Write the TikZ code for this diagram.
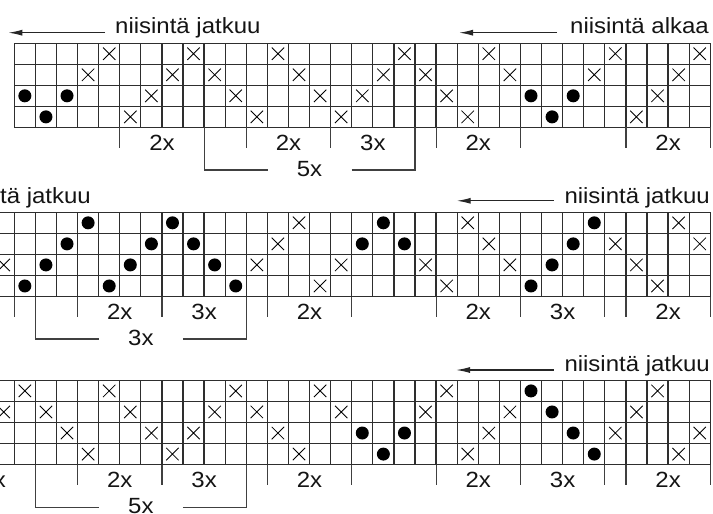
\documentclass[tikz,border=0pt]{standalone}
\usepackage{fontspec}
\setmainfont{Liberation Sans}[FakeStretch=1.09]
\usetikzlibrary{arrows.meta}
\def\cw{21.09}
\def\xo{14.3}
\def\rh{21.05}
\newcommand\wgrid[3]{%
  \pgfmathsetmacro\gl{\xo+(#2)*\cw}%
  \pgfmathsetmacro\gr{\xo+(#3+1)*\cw}%
  \pgfmathtruncatemacro\glast{#3+1}%
  \foreach \k in {0,...,4}{\draw[gridline] (\gl,{#1+\k*\rh}) -- (\gr,{#1+\k*\rh});}%
  \foreach \c in {#2,...,\glast}{\draw[gridline] ({\xo+\c*\cw},#1) -- ({\xo+\c*\cw},{#1+4*\rh});}%
}
\newcommand\xmarks[2]{%
  \foreach \c/\r in {#2}{%
    \pgfmathsetmacro\cx{\xo+(\c+0.5)*\cw}%
    \pgfmathsetmacro\cy{#1+(\r-0.5)*\rh}%
    \draw[xmark] ({\cx-6.2},{\cy-6.2}) -- ({\cx+6.2},{\cy+6.2}) ({\cx-6.2},{\cy+6.2}) -- ({\cx+6.2},{\cy-6.2});}}
\newcommand\dmarks[2]{%
  \foreach \c/\r in {#2}{%
    \pgfmathsetmacro\cx{\xo+(\c+0.5)*\cw}%
    \pgfmathsetmacro\cy{#1+(\r-0.5)*\rh}%
    \fill[dotmark] (\cx,\cy) circle[radius=6.5pt];}}
\newcommand\rticks[2]{%
  \foreach \c in {#2}{\draw[tickline] ({\xo+\c*\cw},#1) -- ({\xo+\c*\cw},{#1+20.5});}}
\newcommand\rlabels[3]{%
  \foreach \c/\t [count=\i] in {#3}{\node[lbl] (#2\i) at ({\xo+\c*\cw},{#1+23}) {\t};}}
\newcommand\rbracket[5]{%
  \pgfmathsetmacro\bl{\xo+#2*\cw}%
  \pgfmathsetmacro\br{\xo+#3*\cw}%
  \pgfmathsetmacro\bc{(\bl+\br)/2}%
  \pgfmathsetmacro\by{#1+42.5}%
  \coordinate (#5-a) at (\bl,#1);
  \coordinate (#5-b) at (\bl,\by);
  \coordinate (#5-c) at ({\bc-42},\by);
  \coordinate (#5-d) at ({\bc+42},\by);
  \coordinate (#5-e) at (\br,\by);
  \coordinate (#5-f) at (\br,#1);
  \draw[tickline] (#5-a) -- (#5-b) -- (#5-c);
  \draw[tickline] (#5-d) -- (#5-e) -- (#5-f);
  \node[lbl] (#5) at (\bc,{#1+49}) {#4};}
\begin{document}
\begin{tikzpicture}[x=1pt,y=-1pt,
  gridline/.style={draw=black!82,line width=1.3pt},
  tickline/.style={draw=black!75,line width=1.2pt},
  xmark/.style={draw=black,line width=0.85pt},
  dotmark/.style={fill=black},
  lbl/.style={font=\fontsize{22}{24}\selectfont,inner sep=0pt,anchor=base,text=black!92},
  arr/.style={draw=black!85,line width=1.2pt,-{Latex[length=14pt,width=6pt]}}]
\useasboundingbox (0,0) rectangle (713,514);
\clip (0,0) rectangle (713,514);
% ---------- top grid ----------
\def\Ta{43.2}\def\Ba{127.4}
\wgrid{\Ta}{0}{32}
\xmarks{\Ta}{4/1,8/1,12/1,18/1,22/1,28/1,32/1,3/2,7/2,9/2,13/2,17/2,19/2,23/2,27/2,31/2,6/3,10/3,14/3,16/3,20/3,30/3,5/4,11/4,15/4,21/4,29/4}
\dmarks{\Ta}{0/3,2/3,24/3,26/3,1/4,25/4}
\rticks{\Ba}{5,11,15,20,24,29,33}
\rlabels{\Ba}{la}{7/2x,13/2x,17/3x,22/2x,31/2x}
\rbracket{\Ba}{9}{19}{5x}{ba}
\node[lbl,anchor=base west] (h1) at (115,33.5) {niisintä jatkuu};
\node[lbl,anchor=base east] (h2) at (709,33.5) {niisintä alkaa};
\coordinate (a1s) at (105,32.7); \coordinate (a1e) at (8.3,32.7);
\coordinate (a2s) at (557,32.7); \coordinate (a2e) at (459,32.7);
\draw[arr] (a1s) -- (a1e);
\draw[arr] (a2s) -- (a2e);
% ---------- middle grid ----------
\def\Tb{212.3}\def\Bb{296.5}
\wgrid{\Tb}{-1}{32}
\xmarks{\Tb}{13/1,21/1,31/1,12/2,22/2,28/2,32/2,-1/3,11/3,15/3,19/3,23/3,29/3,14/4,20/4,30/4}
\dmarks{\Tb}{3/1,7/1,17/1,27/1,2/2,6/2,8/2,16/2,18/2,26/2,1/3,5/3,9/3,25/3,0/4,4/4,10/4,24/4}
\rticks{\Bb}{0,3,7,12,16,20,24,28,29,33}
\rlabels{\Bb}{lb}{5/2x,9/3x,14/2x,22/2x,26/3x,31/2x}
\rbracket{\Bb}{1}{11}{3x}{bb}
\node[lbl,anchor=base east] (h3) at (91,203) {niisintä jatkuu};
\node[lbl,anchor=base east] (h4) at (710,203) {niisintä jatkuu};
\coordinate (a4s) at (553.5,200.8); \coordinate (a4e) at (456.7,200.8);
\draw[arr] (a4s) -- (a4e);
% ---------- bottom grid ----------
\def\Tc{380.4}\def\Bc{464.6}
\wgrid{\Tc}{-1}{32}
\xmarks{\Tc}{0/1,4/1,10/1,14/1,20/1,30/1,-1/2,1/2,5/2,9/2,11/2,15/2,19/2,23/2,29/2,2/3,6/3,8/3,12/3,22/3,28/3,32/3,3/4,7/4,13/4,21/4,31/4}
\dmarks{\Tc}{24/1,25/2,16/3,18/3,26/3,17/4,27/4}
\rticks{\Bc}{3,7,12,16,20,24,28,29,33}
\rlabels{\Bc}{lc}{-1/2x,5/2x,9/3x,14/2x,22/2x,26/3x,31/2x}
\rbracket{\Bc}{1}{11}{5x}{bc}
\node[lbl,anchor=base east] (h5) at (710,371.7) {niisintä jatkuu};
\coordinate (a5s) at (553.7,370); \coordinate (a5e) at (456,370);
\draw[arr] (a5s) -- (a5e);
\end{tikzpicture}
\end{document}
